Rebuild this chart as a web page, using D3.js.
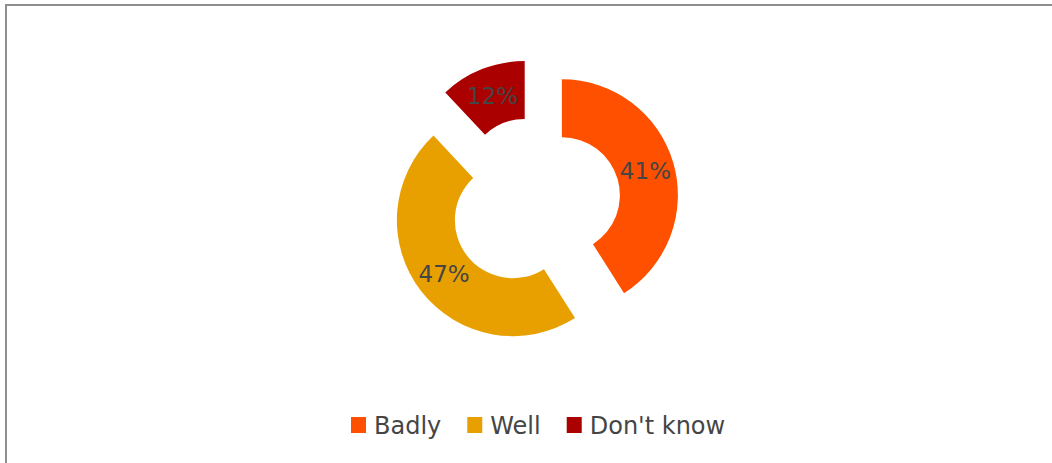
<!DOCTYPE html>
<html><head><meta charset="utf-8">
<script src="https://cdn.jsdelivr.net/npm/d3@7"></script>
<style>html,body{margin:0;padding:0;background:#fff;}svg{display:block;}</style>
</head><body>
<svg id="c" width="1052" height="463"></svg>
<script>
const categories = ["Badly", "Well", "Don't know"];
const values = [41, 47, 12];
const colors = ["#FF5000", "#E8A000", "#AA0000"];

const svg = d3.select("#c");
const W = 1052, H = 463;
svg.append("rect").attr("width", W).attr("height", H).attr("fill", "#fff");
svg.append("path").attr("d", `M6,${H} L6,5 L${W},5`).attr("fill", "none")
  .attr("stroke", "#8f8f8f").attr("stroke-width", 2);

const cx = 535, cy = 203, R = 116, r = 58, explode = 28;
const pie = d3.pie().sort(null).value(d => d)(values);
const arc = d3.arc().innerRadius(r).outerRadius(R);
const g = svg.append("g").attr("transform", `translate(${cx},${cy})`);

const slices = g.selectAll("g.s").data(pie).enter().append("g").attr("class", "s")
  .attr("transform", d => {
    const m = (d.startAngle + d.endAngle) / 2;
    return `translate(${explode * Math.sin(m)},${-explode * Math.cos(m)})`;
  });
slices.append("path").attr("d", arc).attr("fill", (d, i) => colors[i]);
slices.append("text")
  .attr("transform", d => `translate(${arc.centroid(d)})`)
  .attr("text-anchor", "middle").attr("dy", "0.36em")
  .attr("font-family", "DejaVu Sans, sans-serif").attr("font-size", 23)
  .attr("fill", "#454545")
  .text(d => d.value + "%");

// legend
const lg = svg.append("g");
const items = lg.selectAll("g").data(categories).enter().append("g");
items.append("rect").attr("width", 15).attr("height", 16).attr("y", -8)
  .attr("fill", (d, i) => colors[i]);
items.append("text").attr("x", 23).attr("dy", "0.36em")
  .attr("font-family", "DejaVu Sans, sans-serif").attr("font-size", 24)
  .attr("fill", "#454545").text(d => d);
let x = 0;
const gap = 26;
items.each(function() {
  const w = 23 + this.querySelector("text").getComputedTextLength();
  d3.select(this).attr("transform", `translate(${x},0)`);
  x += w + gap;
});
const total = x - gap;
lg.attr("transform", `translate(${Math.round(538 - total / 2)},425)`);
</script>
</body></html>
